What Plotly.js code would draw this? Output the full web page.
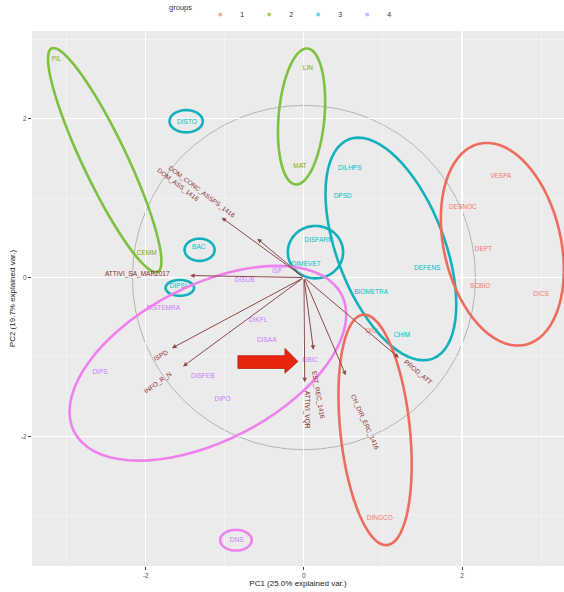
<!DOCTYPE html>
<html>
<head>
<meta charset="utf-8">
<script src="https://cdn.plot.ly/plotly-3.0.1.min.js"></script>
<style>html,body{margin:0;padding:0;background:#fff;}#chart{width:564px;height:592px;}</style>
</head>
<body>
<div id="chart"></div>
<script>
// ---- observations (PC scores) ----
const obsNames = ["VESPA","DESNOC","DEPT","SCBIO","DICS","DINGCO","DICI",
  "PIL","CEMM","LIN","MAT",
  "DISTO","BAC","DIPSI","DILHPS","DPSD","DISFARM","DIMEVET","DEFENS","BIOMETRA","CHIM",
  "ISF","DISUB","DISTEMRA","DIKFL","DISAA","DIPS","DISFEB","DIPO","DBIC","DNS"];
const obsPC1 = [2.49,2.01,2.27,2.23,3.00,0.96,0.86,
  -3.13,-1.99,0.05,-0.05,
  -1.48,-1.33,-1.59,0.58,0.49,0.19,0.03,1.56,0.85,1.24,
  -0.34,-0.75,-1.78,-0.58,-0.47,-2.58,-1.28,-1.03,0.08,-0.85];
const obsPC2 = [1.27,0.88,0.36,-0.11,-0.21,-3.03,-0.68,
  2.75,0.31,2.64,1.40,
  1.96,0.38,-0.11,1.37,1.02,0.47,0.16,0.11,-0.19,-0.73,
  0.08,-0.04,-0.39,-0.54,-0.79,-1.19,-1.25,-1.53,-1.04,-3.31];
const obsGroup = ["1","1","1","1","1","1","1",
  "2","2","2","2",
  "3","3","3","3","3","3","3","3","3","3",
  "4","4","4","4","4","4","4","4","4","4"];
const groupLevels = ["1","2","3","4"];

// ---- variables (loadings arrows) ----
const varNames = ["DOM_CONC_ASSPS_1416","DOM_ASS_1416","ATTIVI_SA_MAR2017","ISPD","INFO_R_N",
  "EST_REC_1416","ATTIVI_VQR","CH_DIR_ERC_1416","PROD_ATT"];
const varPC1 = [-1.04,-0.59,-1.44,-1.67,-1.53,0.12,0.01,0.53,1.20];
const varPC2 = [0.755,0.49,0.025,-0.89,-1.12,-0.91,-1.32,-1.23,-1.01];
const varLabelPC1 = [-1.29,-1.59,-2.11,-1.82,-1.85,0.18,0.04,0.77,1.44];
const varLabelPC2 = [1.08,1.17,0.05,-0.98,-1.33,-1.48,-1.67,-1.82,-1.19];
const varLabelAngle = [37,37,0,-28,-36,80,90,66,40];

const circleRadius = 2.17;

// ---- hand drawn highlight ellipses ----
const hlGroup = ["2","2","3","3","3","3","3","1","1","4","4"];
const hlCX = [-2.52,-0.03,-1.49,-1.32,-1.57,0.146,1.10,2.51,0.90,-1.215,-0.86];
const hlCY = [1.48,2.03,1.97,0.35,-0.13,0.32,0.36,0.42,-1.92,-1.08,-3.31];
const hlA = [1.56,0.86,0.21,0.19,0.18,0.35,1.48,1.30,1.46,1.90,0.20];
const hlB = [0.28,0.29,0.14,0.14,0.10,0.33,0.68,0.74,0.44,0.98,0.13];
const hlAng = [115.5,85,0,0,0,0,111,103,96,27,0];

const textColors = {"1":"#F8766D","2":"#7CAE00","3":"#00BFC4","4":"#C77CFF"};
const ringColors = {"1":"#EE6B5D","2":"#7DC142","3":"#13B1BD","4":"#EF80EE"};
const FONT = "Liberation Sans, Arial, sans-serif";

const traces = [];
groupLevels.forEach(g => {
  const idx = obsGroup.map((v,i)=>v===g?i:-1).filter(i=>i>=0);
  traces.push({
    type:"scatter", mode:"text", name:g, legendgroup:g, showlegend:false,
    x: idx.map(i=>obsPC1[i]), y: idx.map(i=>obsPC2[i]),
    text: idx.map(i=>obsNames[i]),
    textposition:"middle center",
    textfont:{family:FONT, size:6.5, color:textColors[g]},
    hoverinfo:"text", cliponaxis:false
  });
});
// legend keys
groupLevels.forEach(g => {
  traces.push({type:"scatter", mode:"markers", name:g, legendgroup:g, showlegend:true,
    x:[null], y:[null], marker:{color:textColors[g], size:4, opacity:0.6}});
});

function ellipsePath(cx,cy,a,b,angDeg){
  const th = angDeg*Math.PI/180, n=72;
  let p = "";
  for(let k=0;k<=n;k++){
    const t = 2*Math.PI*k/n;
    const x = cx + a*Math.cos(t)*Math.cos(th) - b*Math.sin(t)*Math.sin(th);
    const y = cy + a*Math.cos(t)*Math.sin(th) + b*Math.sin(t)*Math.cos(th);
    p += (k===0?"M":"L") + x.toFixed(4) + "," + y.toFixed(4) + " ";
  }
  return p + "Z";
}

const shapes = [];
shapes.push({type:"circle", xref:"x", yref:"y", x0:-circleRadius, x1:circleRadius,
  y0:-circleRadius, y1:circleRadius, line:{color:"#B4B4B4", width:1}, layer:"below"});
hlGroup.forEach((g,i)=>{
  shapes.push({type:"path", xref:"x", yref:"y", path:ellipsePath(hlCX[i],hlCY[i],hlA[i],hlB[i],hlAng[i]),
    line:{color:ringColors[g], width:2.6}, fillcolor:"rgba(0,0,0,0)", layer:"above"});
});
// red callout arrow (annotation in the original picture)
shapes.push({type:"path", xref:"x", yref:"y",
  path:"M-0.835,-0.985 L-0.24,-0.985 L-0.24,-0.893 L-0.076,-1.057 L-0.24,-1.205 L-0.24,-1.145 L-0.835,-1.145 Z",
  fillcolor:"#E8250F", line:{color:"#B81C0A", width:0.8}, layer:"above"});

const annotations = [];
varNames.forEach((v,i)=>{
  annotations.push({x:varPC1[i], y:varPC2[i], ax:0, ay:0, axref:"x", ayref:"y", xref:"x", yref:"y",
    text:"", showarrow:true, arrowhead:2, arrowsize:0.9, arrowwidth:1, arrowcolor:"#8E4848"});
  annotations.push({x:varLabelPC1[i], y:varLabelPC2[i], xref:"x", yref:"y", text:v, showarrow:false,
    textangle:varLabelAngle[i], font:{family:FONT, size:6.5, color:"#8B2A2A"}});
});

const layout = {
  width:564, height:592,
  margin:{l:32, r:0, t:30, b:26},
  paper_bgcolor:"#ffffff", plot_bgcolor:"#EBEBEB",
  font:{family:FONT, size:7, color:"#4D4D4D"},
  showlegend:true,
  legend:{orientation:"h", x:0.47, xanchor:"center", y:1.03, yanchor:"middle",
    title:{text:"groups", font:{family:FONT, size:7.5, color:"#333"}, side:"left"},
    font:{family:FONT, size:7, color:"#333"}, bgcolor:"rgba(0,0,0,0)", itemwidth:30,
    entrywidth:4, tracegroupgap:0},
  xaxis:{range:[-3.44,3.29], tickvals:[-2,0,2], ticktext:["-2","0","2"], showgrid:true,
    gridcolor:"#FFFFFF", gridwidth:1.1, zeroline:false, ticks:"outside", ticklen:3, tickcolor:"#444",
    tickfont:{family:FONT, size:6.5, color:"#555"}, showline:false,
    minor:{tickvals:[-3,-1,1,3], showgrid:true, gridcolor:"#F6F6F6", gridwidth:0.6, ticks:""},
    title:{text:"PC1 (25.0% explained var.)", font:{family:FONT, size:8, color:"#222"}, standoff:2}},
  yaxis:{range:[-3.635,3.107], tickvals:[-2,0,2], ticktext:["-2","0","2"], showgrid:true,
    gridcolor:"#FFFFFF", gridwidth:1.1, zeroline:false, ticks:"outside", ticklen:3, tickcolor:"#444",
    tickfont:{family:FONT, size:6.5, color:"#555"}, showline:false,
    minor:{tickvals:[-3,-1,1,3], showgrid:true, gridcolor:"#F6F6F6", gridwidth:0.6, ticks:""},
    title:{text:"PC2 (19.7% explained var.)", font:{family:FONT, size:8, color:"#222"}, standoff:4}},
  shapes:shapes,
  annotations:annotations
};

Plotly.newPlot("chart", traces, layout, {displayModeBar:false, staticPlot:true});
</script>
</body>
</html>
